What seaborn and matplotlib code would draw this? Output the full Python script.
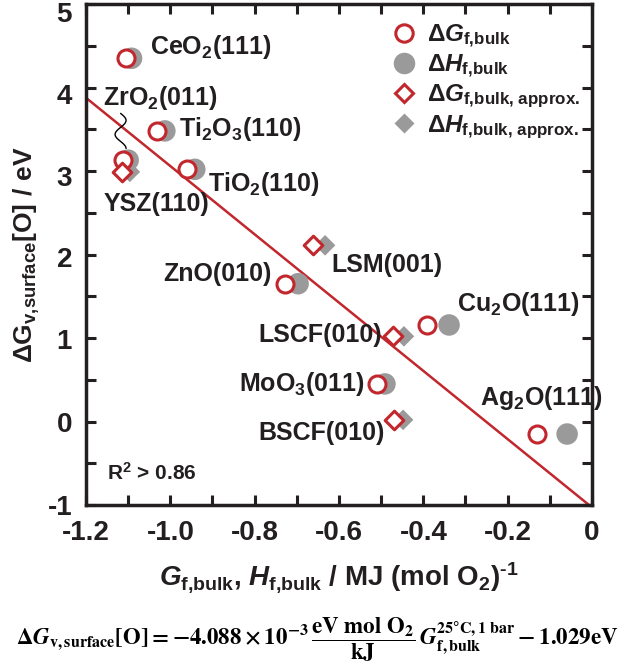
import numpy as np
import matplotlib
matplotlib.use("Agg")
import matplotlib.pyplot as plt
from matplotlib.ticker import MultipleLocator
from matplotlib.lines import Line2D
from matplotlib.transforms import ScaledTranslation
import seaborn as sns
import pandas as pd

# ---------------- data ----------------
exact_names = ["CeO2(111)", "ZrO2(011)", "Ti2O3(110)", "TiO2(110)", "ZnO(010)",
               "Cu2O(111)", "MoO3(011)", "Ag2O(111)"]
exact_G = [-1.105, -1.112, -1.031, -0.960, -0.728, -0.392, -0.511, -0.131]
exact_H = [-1.092, -1.100, -1.013, -0.942, -0.697, -0.339, -0.491, -0.059]
exact_dGv = [4.35, 3.13, 3.48, 3.02, 1.65, 1.156, 0.45, -0.15]

approx_names = ["YSZ(110)", "LSM(001)", "LSCF(010)", "BSCF(010)"]
approx_G = [-1.115, -0.661, -0.471, -0.470]
approx_H = [-1.096, -0.633, -0.446, -0.448]
approx_dGv = [2.99, 2.11, 1.02, 0.02]

fit_slope = -4.088   # eV per MJ (mol O2)^-1
fit_intercept = -1.029
fit_x = [-1.2, 0.0]

label_texts = ["CeO$_2$(111)", "ZrO$_2$(011)", "Ti$_2$O$_3$(110)", "TiO$_2$(110)",
               "YSZ(110)", "LSM(001)", "ZnO(010)", "Cu$_2$O(111)", "LSCF(010)",
               "MoO$_3$(011)", "BSCF(010)", "Ag$_2$O(111)"]
label_x = [-1.048, -1.160, -0.980, -0.910, -1.159, -0.617, -0.759, -0.320,
           -0.498, -0.539, -0.491, -0.266]
label_y = [4.48, 3.87, 3.50, 2.85, 2.61, 1.87, 1.77, 1.41, 1.04, 0.45, -0.14, 0.28]
label_ha = ["left", "left", "left", "left", "left", "left", "right", "left",
            "right", "right", "right", "left"]

xtick_vals = [-1.2, -1.0, -0.8, -0.6, -0.4, -0.2, 0.0]
xtick_labels = ["-1.2", "-1.0", "-0.8", "-0.6", "-0.4", "-0.2", "0"]
ytick_vals = [-1, 0, 1, 2, 3, 4, 5]
ytick_labels = ["-1", "0", "1", "2", "3", "4", "5"]

# ---------------- style ----------------
sns.set_style("ticks")
plt.rcParams["font.family"] = ["Liberation Sans", "DejaVu Sans"]
plt.rcParams["font.weight"] = "bold"
plt.rcParams["mathtext.fontset"] = "custom"
plt.rcParams["mathtext.rm"] = "Liberation Sans:bold"
plt.rcParams["mathtext.bf"] = "Liberation Sans:bold"
plt.rcParams["mathtext.it"] = "Liberation Sans:italic:bold"
plt.rcParams["mathtext.sf"] = "Liberation Sans"
plt.rcParams["axes.unicode_minus"] = False

RED = "#C1272D"
GRAY = "#9A9A9A"
TXT = "#231F20"

fig = plt.figure(figsize=(6.34, 6.70), dpi=100)
ax = fig.add_axes([86 / 634, 1 - 505 / 670, (592 - 86) / 634, (505 - 4) / 670])

df_e = pd.DataFrame({"G": exact_G, "H": exact_H, "dGv": exact_dGv})
df_a = pd.DataFrame({"G": approx_G, "H": approx_H, "dGv": approx_dGv})

# fit line
fx = np.array(fit_x)
df_fit = pd.DataFrame({"x": fx, "y": fit_slope * fx + fit_intercept})
sns.lineplot(data=df_fit, x="x", y="y", ax=ax, color=RED, lw=1.8, zorder=2)

# gray (enthalpy) behind
sns.scatterplot(data=df_e, x="H", y="dGv", ax=ax, marker="o", s=240,
                color=GRAY, edgecolor="none", zorder=3)
sns.scatterplot(data=df_a, x="H", y="dGv", ax=ax, marker="D", s=110,
                color=GRAY, edgecolor="none", zorder=3)
# red (Gibbs) open markers
sns.scatterplot(data=df_e, x="G", y="dGv", ax=ax, marker="o", s=150,
                facecolor="white", edgecolor=RED, linewidth=2.2, zorder=4)
sns.scatterplot(data=df_a, x="G", y="dGv", ax=ax, marker="D", s=90,
                facecolor="white", edgecolor=RED, linewidth=2.2, zorder=4)

# labels
for t, x, y, ha in zip(label_texts, label_x, label_y, label_ha):
    ax.text(x, y, t, ha=ha, va="center", fontsize=18, fontweight="bold", color=TXT, zorder=5)

ax.text(-1.15, -0.62, "R$^2$ > 0.86", ha="left", va="center", fontsize=15, color=TXT)

# squiggle connector ZrO2 label -> ZrO2 point
tt = np.linspace(0, 1, 60)
sq_x = -1.118 + 0.013 * np.sin(2 * np.pi * 1.25 * tt)
sq_y = 3.69 - (3.69 - 3.27) * tt
ax.plot(sq_x, sq_y, color="black", lw=1.0, zorder=2)

# axes
ax.set_xlim(-1.2, 0)
ax.set_ylim(-1, 5)
ax.set_xticks(xtick_vals)
ax.set_xticklabels(xtick_labels)
ax.set_yticks(ytick_vals)
ax.set_yticklabels(ytick_labels)
ax.xaxis.set_minor_locator(MultipleLocator(0.1))
ax.yaxis.set_minor_locator(MultipleLocator(0.5))
ax.tick_params(which="both", direction="in", length=7, width=2.2,
               top=True, right=True, color="#231F20")
ax.tick_params(axis="x", which="major", labelsize=20, pad=11)
ax.tick_params(axis="y", which="major", labelsize=20, pad=10)
for lab in ax.get_xticklabels() + ax.get_yticklabels():
    lab.set_fontweight("bold")
    lab.set_color(TXT)
for sp in ax.spines.values():
    sp.set_linewidth(2.5)
    sp.set_color("#231F20")

# the original's y tick labels drift slightly downward toward the top
for tick, v in zip(ax.yaxis.get_major_ticks(), ytick_vals):
    off_px = max(0.0, 1.9 * v - 1.0)
    tick.label1.set_transform(tick.label1.get_transform()
                              + ScaledTranslation(0, -off_px / 100, fig.dpi_scale_trans))

ax.set_xlabel(r"$G_{\text{f,bulk}}$, $H_{\text{f,bulk}}$ / MJ (mol O$_2$)$^{\text{-1}}$",
              fontsize=20, fontweight="bold", color=TXT, labelpad=10)
ax.set_ylabel(r"$\mathsf{\Delta}\mathrm{G}_{\text{v,surface}}\mathrm{[O]\ /\ eV}$",
              fontsize=19, fontweight="bold", color=TXT, labelpad=4)

# legend
handles = [
    Line2D([], [], marker="o", ls="none", ms=12.5, mfc="white", mec=RED, mew=2.2),
    Line2D([], [], marker="o", ls="none", ms=15.5, mfc=GRAY, mec="none"),
    Line2D([], [], marker="D", ls="none", ms=9.5, mfc="white", mec=RED, mew=2.2),
    Line2D([], [], marker="D", ls="none", ms=10.5, mfc=GRAY, mec="none"),
]
labels = [r"$\mathsf{\Delta}G_{\text{f,bulk}}$",
          r"$\mathsf{\Delta}H_{\text{f,bulk}}$",
          r"$\mathsf{\Delta}G_{\text{f,bulk, approx.}}$",
          r"$\mathsf{\Delta}H_{\text{f,bulk, approx.}}$"]
leg = ax.legend(handles, labels, loc="upper left", bbox_to_anchor=(0.605, 0.962),
                frameon=False, fontsize=17.5, handlelength=1.0, handletextpad=0.45,
                labelspacing=0.12, borderpad=0, borderaxespad=0)
for t in leg.get_texts():
    t.set_color(TXT)

# formula
fig.text(0.5, 0.045,
         r"$\mathbf{\Delta}\mathbf{\mathit{G}}_{\mathbf{v,surface}}[\mathbf{O}]"
         r" = -\mathbf{4.088} \times \mathbf{10}^{-\mathbf{3}}\,"
         r"\dfrac{\mathbf{eV\ mol\ O_2}}{\mathbf{kJ}}\,"
         r"\mathbf{\mathit{G}}_{\mathbf{f,bulk}}^{\mathbf{25°C,1\ bar}} - \mathbf{1.029eV}$",
         ha="center", va="center", fontsize=16.5, math_fontfamily="stix", color="black")

fig.savefig("out.png", dpi=100)
